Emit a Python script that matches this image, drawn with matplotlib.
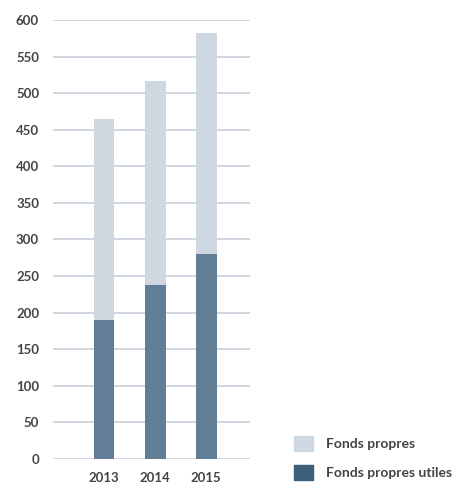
import matplotlib
matplotlib.use("Agg")
import matplotlib.pyplot as plt
from matplotlib.patches import Patch

years = ["2013", "2014", "2015"]
fonds_propres = [465, 517, 582]
fonds_propres_utiles = [190, 238, 280]
yticks = list(range(0, 601, 50))

plt.rcParams['font.family'] = ['Lato', 'DejaVu Sans']

fig = plt.figure(figsize=(4.77, 4.88), dpi=100)
ax = fig.add_axes([53/477, 1-459/488, 197/477, 439/488])

x = list(range(len(years)))
ax.bar(x, fonds_propres, width=0.41, color="#cfd8e0", zorder=2)
ax.bar(x, fonds_propres_utiles, width=0.41, color="#627d96", zorder=3)

ax.set_ylim(0, 600)
ax.set_xlim(-1.0, 2.86)
ax.set_yticks(yticks)
ax.set_yticklabels([str(v) for v in yticks], fontsize=9.5, fontweight='bold', color="#444444")
ax.set_xticks(x)
ax.set_xticklabels(years, fontsize=9.5, fontweight='bold', color="#444444")
ax.tick_params(axis='both', length=0)
ax.tick_params(axis='y', pad=10)
ax.tick_params(axis='x', pad=9)
ax.grid(axis='y', color="#cbd3de", linewidth=1.3, zorder=1)
ax.set_axisbelow(True)
for s in ax.spines.values():
    s.set_visible(False)

handles = [Patch(color="#cfd8e0"), Patch(color="#3d5f7a")]
fig.legend(handles, ["Fonds propres", "Fonds propres utiles"],
           loc='upper left', bbox_to_anchor=(282/477, 1-423/488),
           frameon=False, handlelength=1.3, handleheight=1.3,
           labelspacing=1.05, handletextpad=1.0,
           prop={'size': 10, 'weight': 'bold'}, labelcolor="#444444")

fig.savefig("out.png", dpi=100)
